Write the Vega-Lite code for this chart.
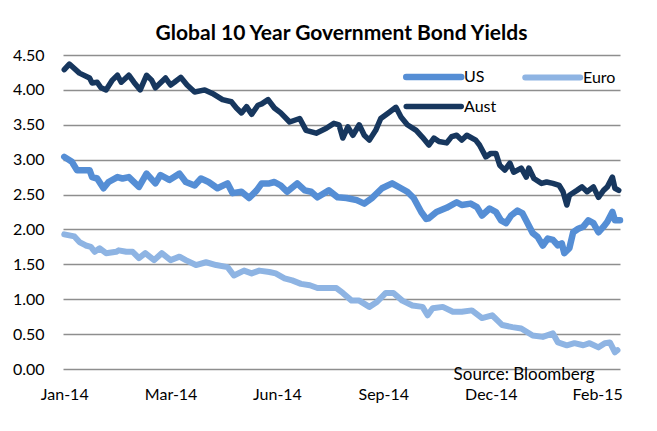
{
  "$schema": "https://vega.github.io/schema/vega-lite/v6.json",
  "width": 557,
  "height": 314,
  "autosize": {"type": "none"},
  "padding": {"left": 63, "top": 55, "right": 37, "bottom": 62},
  "background": "white",
  "title": {"text": "Global 10 Year Government Bond Yields", "font": "Lato", "fontSize": 21, "fontWeight": "bold", "color": "#000000", "anchor": "middle", "offset": 3},
  "config": {"view": {"stroke": null}, "font": "Lato"},
  "layer": [
    {
      "data": {"values": [
        {"date": "2014-01-02", "series": "Aust", "value": 4.29},
        {"date": "2014-01-06", "series": "Aust", "value": 4.37},
        {"date": "2014-01-14", "series": "Aust", "value": 4.24},
        {"date": "2014-01-22", "series": "Aust", "value": 4.17},
        {"date": "2014-01-24", "series": "Aust", "value": 4.10},
        {"date": "2014-01-28", "series": "Aust", "value": 4.11},
        {"date": "2014-01-31", "series": "Aust", "value": 4.03},
        {"date": "2014-02-04", "series": "Aust", "value": 4.00},
        {"date": "2014-02-09", "series": "Aust", "value": 4.14},
        {"date": "2014-02-13", "series": "Aust", "value": 4.21},
        {"date": "2014-02-16", "series": "Aust", "value": 4.11},
        {"date": "2014-02-22", "series": "Aust", "value": 4.21},
        {"date": "2014-02-26", "series": "Aust", "value": 4.11},
        {"date": "2014-03-03", "series": "Aust", "value": 4.00},
        {"date": "2014-03-08", "series": "Aust", "value": 4.21},
        {"date": "2014-03-12", "series": "Aust", "value": 4.14},
        {"date": "2014-03-15", "series": "Aust", "value": 4.03},
        {"date": "2014-03-23", "series": "Aust", "value": 4.17},
        {"date": "2014-03-27", "series": "Aust", "value": 4.07},
        {"date": "2014-03-30", "series": "Aust", "value": 4.11},
        {"date": "2014-04-04", "series": "Aust", "value": 4.18},
        {"date": "2014-04-09", "series": "Aust", "value": 4.07},
        {"date": "2014-04-15", "series": "Aust", "value": 3.97},
        {"date": "2014-04-23", "series": "Aust", "value": 4.00},
        {"date": "2014-04-29", "series": "Aust", "value": 3.95},
        {"date": "2014-05-07", "series": "Aust", "value": 3.86},
        {"date": "2014-05-14", "series": "Aust", "value": 3.83},
        {"date": "2014-05-18", "series": "Aust", "value": 3.74},
        {"date": "2014-05-22", "series": "Aust", "value": 3.67},
        {"date": "2014-05-26", "series": "Aust", "value": 3.76},
        {"date": "2014-05-30", "series": "Aust", "value": 3.65},
        {"date": "2014-06-04", "series": "Aust", "value": 3.78},
        {"date": "2014-06-07", "series": "Aust", "value": 3.80},
        {"date": "2014-06-12", "series": "Aust", "value": 3.86},
        {"date": "2014-06-17", "series": "Aust", "value": 3.74},
        {"date": "2014-06-22", "series": "Aust", "value": 3.67},
        {"date": "2014-06-29", "series": "Aust", "value": 3.54},
        {"date": "2014-07-07", "series": "Aust", "value": 3.59},
        {"date": "2014-07-12", "series": "Aust", "value": 3.42},
        {"date": "2014-07-20", "series": "Aust", "value": 3.38},
        {"date": "2014-07-28", "series": "Aust", "value": 3.45},
        {"date": "2014-08-03", "series": "Aust", "value": 3.52},
        {"date": "2014-08-07", "series": "Aust", "value": 3.50},
        {"date": "2014-08-10", "series": "Aust", "value": 3.31},
        {"date": "2014-08-14", "series": "Aust", "value": 3.47},
        {"date": "2014-08-18", "series": "Aust", "value": 3.35},
        {"date": "2014-08-23", "series": "Aust", "value": 3.50},
        {"date": "2014-08-27", "series": "Aust", "value": 3.35},
        {"date": "2014-08-31", "series": "Aust", "value": 3.28},
        {"date": "2014-09-05", "series": "Aust", "value": 3.42},
        {"date": "2014-09-09", "series": "Aust", "value": 3.59},
        {"date": "2014-09-15", "series": "Aust", "value": 3.67},
        {"date": "2014-09-21", "series": "Aust", "value": 3.75},
        {"date": "2014-09-25", "series": "Aust", "value": 3.61},
        {"date": "2014-09-30", "series": "Aust", "value": 3.50},
        {"date": "2014-10-07", "series": "Aust", "value": 3.42},
        {"date": "2014-10-12", "series": "Aust", "value": 3.32},
        {"date": "2014-10-17", "series": "Aust", "value": 3.21},
        {"date": "2014-10-21", "series": "Aust", "value": 3.31},
        {"date": "2014-10-25", "series": "Aust", "value": 3.26},
        {"date": "2014-10-31", "series": "Aust", "value": 3.24},
        {"date": "2014-11-04", "series": "Aust", "value": 3.33},
        {"date": "2014-11-08", "series": "Aust", "value": 3.35},
        {"date": "2014-11-12", "series": "Aust", "value": 3.28},
        {"date": "2014-11-16", "series": "Aust", "value": 3.35},
        {"date": "2014-11-23", "series": "Aust", "value": 3.28},
        {"date": "2014-11-26", "series": "Aust", "value": 3.21},
        {"date": "2014-12-01", "series": "Aust", "value": 3.04},
        {"date": "2014-12-05", "series": "Aust", "value": 3.09},
        {"date": "2014-12-09", "series": "Aust", "value": 3.09},
        {"date": "2014-12-12", "series": "Aust", "value": 2.92},
        {"date": "2014-12-16", "series": "Aust", "value": 2.85},
        {"date": "2014-12-20", "series": "Aust", "value": 2.95},
        {"date": "2014-12-23", "series": "Aust", "value": 2.82},
        {"date": "2014-12-29", "series": "Aust", "value": 2.88},
        {"date": "2015-01-02", "series": "Aust", "value": 2.75},
        {"date": "2015-01-04", "series": "Aust", "value": 2.88},
        {"date": "2015-01-08", "series": "Aust", "value": 2.73},
        {"date": "2015-01-14", "series": "Aust", "value": 2.66},
        {"date": "2015-01-18", "series": "Aust", "value": 2.68},
        {"date": "2015-01-23", "series": "Aust", "value": 2.66},
        {"date": "2015-01-28", "series": "Aust", "value": 2.63},
        {"date": "2015-01-31", "series": "Aust", "value": 2.54},
        {"date": "2015-02-03", "series": "Aust", "value": 2.35},
        {"date": "2015-02-05", "series": "Aust", "value": 2.49},
        {"date": "2015-02-11", "series": "Aust", "value": 2.56},
        {"date": "2015-02-15", "series": "Aust", "value": 2.61},
        {"date": "2015-02-19", "series": "Aust", "value": 2.54},
        {"date": "2015-02-24", "series": "Aust", "value": 2.61},
        {"date": "2015-02-28", "series": "Aust", "value": 2.46},
        {"date": "2015-03-04", "series": "Aust", "value": 2.56},
        {"date": "2015-03-07", "series": "Aust", "value": 2.61},
        {"date": "2015-03-11", "series": "Aust", "value": 2.75},
        {"date": "2015-03-13", "series": "Aust", "value": 2.59},
        {"date": "2015-03-16", "series": "Aust", "value": 2.56},

        {"date": "2014-01-02", "series": "US", "value": 3.04},
        {"date": "2014-01-08", "series": "US", "value": 2.97},
        {"date": "2014-01-12", "series": "US", "value": 2.85},
        {"date": "2014-01-18", "series": "US", "value": 2.85},
        {"date": "2014-01-22", "series": "US", "value": 2.85},
        {"date": "2014-01-24", "series": "US", "value": 2.75},
        {"date": "2014-01-28", "series": "US", "value": 2.73},
        {"date": "2014-02-02", "series": "US", "value": 2.59},
        {"date": "2014-02-06", "series": "US", "value": 2.68},
        {"date": "2014-02-13", "series": "US", "value": 2.75},
        {"date": "2014-02-17", "series": "US", "value": 2.73},
        {"date": "2014-02-22", "series": "US", "value": 2.75},
        {"date": "2014-03-02", "series": "US", "value": 2.61},
        {"date": "2014-03-08", "series": "US", "value": 2.80},
        {"date": "2014-03-15", "series": "US", "value": 2.66},
        {"date": "2014-03-19", "series": "US", "value": 2.78},
        {"date": "2014-03-26", "series": "US", "value": 2.71},
        {"date": "2014-04-03", "series": "US", "value": 2.80},
        {"date": "2014-04-08", "series": "US", "value": 2.68},
        {"date": "2014-04-15", "series": "US", "value": 2.63},
        {"date": "2014-04-20", "series": "US", "value": 2.73},
        {"date": "2014-04-26", "series": "US", "value": 2.68},
        {"date": "2014-05-03", "series": "US", "value": 2.59},
        {"date": "2014-05-11", "series": "US", "value": 2.66},
        {"date": "2014-05-15", "series": "US", "value": 2.52},
        {"date": "2014-05-22", "series": "US", "value": 2.54},
        {"date": "2014-05-28", "series": "US", "value": 2.45},
        {"date": "2014-06-03", "series": "US", "value": 2.56},
        {"date": "2014-06-07", "series": "US", "value": 2.66},
        {"date": "2014-06-13", "series": "US", "value": 2.66},
        {"date": "2014-06-17", "series": "US", "value": 2.68},
        {"date": "2014-06-22", "series": "US", "value": 2.63},
        {"date": "2014-06-27", "series": "US", "value": 2.54},
        {"date": "2014-07-05", "series": "US", "value": 2.66},
        {"date": "2014-07-11", "series": "US", "value": 2.56},
        {"date": "2014-07-16", "series": "US", "value": 2.54},
        {"date": "2014-07-21", "series": "US", "value": 2.46},
        {"date": "2014-07-30", "series": "US", "value": 2.56},
        {"date": "2014-08-06", "series": "US", "value": 2.46},
        {"date": "2014-08-13", "series": "US", "value": 2.45},
        {"date": "2014-08-21", "series": "US", "value": 2.42},
        {"date": "2014-08-27", "series": "US", "value": 2.37},
        {"date": "2014-09-02", "series": "US", "value": 2.45},
        {"date": "2014-09-10", "series": "US", "value": 2.59},
        {"date": "2014-09-18", "series": "US", "value": 2.66},
        {"date": "2014-09-25", "series": "US", "value": 2.59},
        {"date": "2014-09-30", "series": "US", "value": 2.54},
        {"date": "2014-10-05", "series": "US", "value": 2.45},
        {"date": "2014-10-11", "series": "US", "value": 2.25},
        {"date": "2014-10-15", "series": "US", "value": 2.15},
        {"date": "2014-10-17", "series": "US", "value": 2.16},
        {"date": "2014-10-23", "series": "US", "value": 2.25},
        {"date": "2014-10-31", "series": "US", "value": 2.31},
        {"date": "2014-11-08", "series": "US", "value": 2.39},
        {"date": "2014-11-12", "series": "US", "value": 2.35},
        {"date": "2014-11-19", "series": "US", "value": 2.37},
        {"date": "2014-11-24", "series": "US", "value": 2.32},
        {"date": "2014-11-28", "series": "US", "value": 2.20},
        {"date": "2014-12-04", "series": "US", "value": 2.30},
        {"date": "2014-12-09", "series": "US", "value": 2.25},
        {"date": "2014-12-13", "series": "US", "value": 2.13},
        {"date": "2014-12-17", "series": "US", "value": 2.09},
        {"date": "2014-12-21", "series": "US", "value": 2.20},
        {"date": "2014-12-26", "series": "US", "value": 2.27},
        {"date": "2014-12-30", "series": "US", "value": 2.23},
        {"date": "2015-01-03", "series": "US", "value": 2.09},
        {"date": "2015-01-07", "series": "US", "value": 1.95},
        {"date": "2015-01-11", "series": "US", "value": 1.89},
        {"date": "2015-01-15", "series": "US", "value": 1.77},
        {"date": "2015-01-19", "series": "US", "value": 1.87},
        {"date": "2015-01-23", "series": "US", "value": 1.85},
        {"date": "2015-01-27", "series": "US", "value": 1.77},
        {"date": "2015-01-30", "series": "US", "value": 1.80},
        {"date": "2015-02-01", "series": "US", "value": 1.66},
        {"date": "2015-02-05", "series": "US", "value": 1.73},
        {"date": "2015-02-08", "series": "US", "value": 1.96},
        {"date": "2015-02-12", "series": "US", "value": 2.01},
        {"date": "2015-02-16", "series": "US", "value": 2.04},
        {"date": "2015-02-20", "series": "US", "value": 2.13},
        {"date": "2015-02-24", "series": "US", "value": 2.09},
        {"date": "2015-02-28", "series": "US", "value": 1.96},
        {"date": "2015-03-04", "series": "US", "value": 2.04},
        {"date": "2015-03-07", "series": "US", "value": 2.11},
        {"date": "2015-03-11", "series": "US", "value": 2.25},
        {"date": "2015-03-13", "series": "US", "value": 2.13},
        {"date": "2015-03-17", "series": "US", "value": 2.13},

        {"date": "2014-01-02", "series": "Euro", "value": 1.93},
        {"date": "2014-01-10", "series": "Euro", "value": 1.90},
        {"date": "2014-01-14", "series": "Euro", "value": 1.82},
        {"date": "2014-01-19", "series": "Euro", "value": 1.77},
        {"date": "2014-01-23", "series": "Euro", "value": 1.75},
        {"date": "2014-01-26", "series": "Euro", "value": 1.68},
        {"date": "2014-01-30", "series": "Euro", "value": 1.73},
        {"date": "2014-02-04", "series": "Euro", "value": 1.66},
        {"date": "2014-02-12", "series": "Euro", "value": 1.68},
        {"date": "2014-02-14", "series": "Euro", "value": 1.70},
        {"date": "2014-02-20", "series": "Euro", "value": 1.68},
        {"date": "2014-02-25", "series": "Euro", "value": 1.68},
        {"date": "2014-03-02", "series": "Euro", "value": 1.59},
        {"date": "2014-03-07", "series": "Euro", "value": 1.66},
        {"date": "2014-03-14", "series": "Euro", "value": 1.56},
        {"date": "2014-03-20", "series": "Euro", "value": 1.66},
        {"date": "2014-03-27", "series": "Euro", "value": 1.56},
        {"date": "2014-04-03", "series": "Euro", "value": 1.61},
        {"date": "2014-04-08", "series": "Euro", "value": 1.56},
        {"date": "2014-04-16", "series": "Euro", "value": 1.49},
        {"date": "2014-04-24", "series": "Euro", "value": 1.53},
        {"date": "2014-05-02", "series": "Euro", "value": 1.49},
        {"date": "2014-05-11", "series": "Euro", "value": 1.46},
        {"date": "2014-05-16", "series": "Euro", "value": 1.34},
        {"date": "2014-05-24", "series": "Euro", "value": 1.41},
        {"date": "2014-05-30", "series": "Euro", "value": 1.37},
        {"date": "2014-06-05", "series": "Euro", "value": 1.41},
        {"date": "2014-06-13", "series": "Euro", "value": 1.39},
        {"date": "2014-06-18", "series": "Euro", "value": 1.37},
        {"date": "2014-06-25", "series": "Euro", "value": 1.30},
        {"date": "2014-07-01", "series": "Euro", "value": 1.27},
        {"date": "2014-07-08", "series": "Euro", "value": 1.22},
        {"date": "2014-07-15", "series": "Euro", "value": 1.20},
        {"date": "2014-07-21", "series": "Euro", "value": 1.16},
        {"date": "2014-07-28", "series": "Euro", "value": 1.16},
        {"date": "2014-08-05", "series": "Euro", "value": 1.16},
        {"date": "2014-08-10", "series": "Euro", "value": 1.09},
        {"date": "2014-08-17", "series": "Euro", "value": 0.98},
        {"date": "2014-08-23", "series": "Euro", "value": 0.98},
        {"date": "2014-08-31", "series": "Euro", "value": 0.89},
        {"date": "2014-09-06", "series": "Euro", "value": 0.96},
        {"date": "2014-09-13", "series": "Euro", "value": 1.09},
        {"date": "2014-09-19", "series": "Euro", "value": 1.09},
        {"date": "2014-09-26", "series": "Euro", "value": 0.98},
        {"date": "2014-10-04", "series": "Euro", "value": 0.91},
        {"date": "2014-10-12", "series": "Euro", "value": 0.89},
        {"date": "2014-10-16", "series": "Euro", "value": 0.77},
        {"date": "2014-10-20", "series": "Euro", "value": 0.87},
        {"date": "2014-10-28", "series": "Euro", "value": 0.89},
        {"date": "2014-11-05", "series": "Euro", "value": 0.82},
        {"date": "2014-11-12", "series": "Euro", "value": 0.82},
        {"date": "2014-11-20", "series": "Euro", "value": 0.84},
        {"date": "2014-11-28", "series": "Euro", "value": 0.73},
        {"date": "2014-12-06", "series": "Euro", "value": 0.77},
        {"date": "2014-12-14", "series": "Euro", "value": 0.63},
        {"date": "2014-12-22", "series": "Euro", "value": 0.60},
        {"date": "2014-12-29", "series": "Euro", "value": 0.58},
        {"date": "2015-01-07", "series": "Euro", "value": 0.48},
        {"date": "2015-01-15", "series": "Euro", "value": 0.46},
        {"date": "2015-01-23", "series": "Euro", "value": 0.51},
        {"date": "2015-01-27", "series": "Euro", "value": 0.38},
        {"date": "2015-02-03", "series": "Euro", "value": 0.34},
        {"date": "2015-02-09", "series": "Euro", "value": 0.37},
        {"date": "2015-02-16", "series": "Euro", "value": 0.34},
        {"date": "2015-02-21", "series": "Euro", "value": 0.37},
        {"date": "2015-02-28", "series": "Euro", "value": 0.31},
        {"date": "2015-03-05", "series": "Euro", "value": 0.37},
        {"date": "2015-03-09", "series": "Euro", "value": 0.38},
        {"date": "2015-03-13", "series": "Euro", "value": 0.24},
        {"date": "2015-03-15", "series": "Euro", "value": 0.27}
      ]},
      "mark": {"type": "line", "strokeCap": "round", "strokeJoin": "round"},
      "encoding": {
        "x": {
          "field": "date", "type": "temporal",
          "scale": {"type": "utc", "domain": [{"year": 2014, "month": 1, "date": 1, "utc": true}, {"year": 2015, "month": 3, "date": 17, "utc": true}]},
          "axis": {
            "title": null, "grid": false, "domain": false, "ticks": false,
            "values": [
              {"year": 2014, "month": 1, "date": 2, "utc": true},
              {"year": 2014, "month": 3, "date": 27, "utc": true},
              {"year": 2014, "month": 6, "date": 19, "utc": true},
              {"year": 2014, "month": 9, "date": 11, "utc": true},
              {"year": 2014, "month": 12, "date": 5, "utc": true},
              {"year": 2015, "month": 2, "date": 27, "utc": true}
            ],
            "format": "%b-%y", "labelFont": "Lato", "labelFontSize": 16, "labelColor": "#000000", "labelPadding": 17, "labelFlush": false, "labelOverlap": false
          }
        },
        "y": {
          "field": "value", "type": "quantitative",
          "scale": {"domain": [0, 4.5], "nice": false, "zero": false},
          "axis": {
            "title": null, "domain": false, "ticks": false, "grid": true,
            "gridColor": "#8e8e8e", "gridWidth": 1.6,
            "values": [0, 0.5, 1, 1.5, 2, 2.5, 3, 3.5, 4, 4.5],
            "format": ".2f", "labelFont": "Lato", "labelFontSize": 16, "labelColor": "#000000", "labelPadding": 19, "labelOverlap": false, "labelFlush": false
          }
        },
        "color": {
          "field": "series", "type": "nominal",
          "scale": {"domain": ["US", "Euro", "Aust"], "range": ["#558ED5", "#8EB4E3", "#17375E"]},
          "legend": {
            "title": null, "orient": "none", "legendX": 340, "legendY": 5, "direction": "horizontal", "columns": 2,
            "symbolType": "M-1,0H3", "symbolSize": 756, "symbolStrokeWidth": 6,
            "labelOffset": 27, "labelFont": "Lato", "labelFontSize": 16, "labelColor": "#000000",
            "columnPadding": 16, "rowPadding": -0.5, "padding": 0,
            "encode": {"symbols": {"update": {"strokeCap": {"value": "round"}}}}
          }
        },
        "strokeWidth": {
          "field": "series", "type": "nominal",
          "scale": {"domain": ["US", "Euro", "Aust"], "range": [6.5, 5.5, 7.5]},
          "legend": null
        }
      }
    },
    {
      "data": {"values": [{"note": "Source: Bloomberg"}]},
      "mark": {"type": "text", "align": "right", "baseline": "middle", "font": "Lato", "fontSize": 17, "color": "#000000"},
      "encoding": {
        "text": {"field": "note", "type": "nominal"},
        "x": {
          "datum": {"year": 2015, "month": 2, "date": 25, "utc": true}, "type": "temporal",
          "scale": {"type": "utc", "domain": [{"year": 2014, "month": 1, "date": 1, "utc": true}, {"year": 2015, "month": 3, "date": 17, "utc": true}]},
          "axis": {
            "title": null, "grid": false, "domain": false, "ticks": false,
            "values": [
              {"year": 2014, "month": 1, "date": 2, "utc": true},
              {"year": 2014, "month": 3, "date": 27, "utc": true},
              {"year": 2014, "month": 6, "date": 19, "utc": true},
              {"year": 2014, "month": 9, "date": 11, "utc": true},
              {"year": 2014, "month": 12, "date": 5, "utc": true},
              {"year": 2015, "month": 2, "date": 27, "utc": true}
            ],
            "format": "%b-%y", "labelFont": "Lato", "labelFontSize": 16, "labelColor": "#000000", "labelPadding": 17, "labelFlush": false, "labelOverlap": false
          }
        },
        "y": {
          "datum": -0.08, "type": "quantitative",
          "scale": {"domain": [0, 4.5], "nice": false, "zero": false},
          "axis": {
            "title": null, "domain": false, "ticks": false, "grid": true,
            "gridColor": "#8e8e8e", "gridWidth": 1.6,
            "values": [0, 0.5, 1, 1.5, 2, 2.5, 3, 3.5, 4, 4.5],
            "format": ".2f", "labelFont": "Lato", "labelFontSize": 16, "labelColor": "#000000", "labelPadding": 19, "labelOverlap": false, "labelFlush": false
          }
        }
      }
    }
  ]
}
